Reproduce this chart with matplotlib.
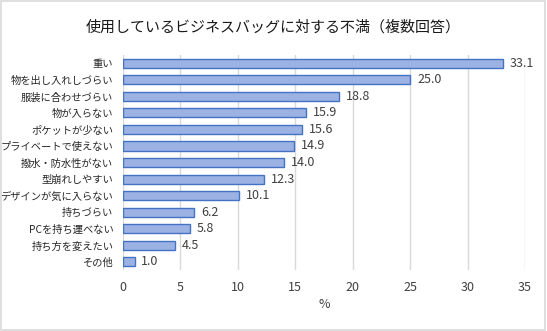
import matplotlib
matplotlib.use("Agg")
import matplotlib.pyplot as plt
from matplotlib.patches import Rectangle

plt.rcParams['font.family'] = ['Noto Sans CJK JP', 'DejaVu Sans']

# data
labels = ["重い", "物を出し入れしづらい", "服装に合わせづらい", "物が入らない",
          "ポケットが少ない", "プライベートで使えない", "撥水・防水性がない",
          "型崩れしやすい", "デザインが気に入らない", "持ちづらい",
          "PCを持ち運べない", "持ち方を変えたい", "その他"]
values = [33.1, 25.0, 18.8, 15.9, 15.6, 14.9, 14.0, 12.3, 10.1, 6.2, 5.8, 4.5, 1.0]
xticks = [0, 5, 10, 15, 20, 25, 30, 35]

fig = plt.figure(figsize=(5.47, 3.31), dpi=100)
fig.patches.append(Rectangle((0.002, 0.003), 0.995, 0.994, transform=fig.transFigure,
                             fill=False, edgecolor='#D9D9D9', linewidth=1.2))
ax = fig.add_axes([0.2249, 0.184, 0.735, 0.65])

y = range(len(labels))
ax.barh(y, values, height=0.55, color='#9CB2E2', edgecolor='#4472C4', linewidth=1.0, zorder=3)
for i, v in enumerate(values):
    ax.text(v + 0.6, i, "%.1f" % v, va='center', ha='left', fontsize=9, color='#404040')

ax.set_xlim(0, 35)
ax.set_ylim(len(labels) - 0.5, -0.5)
ax.set_xticks(xticks)
ax.set_yticks(list(y))
ax.set_yticklabels(labels, fontsize=7.4, color='#262626')
ax.tick_params(axis='x', labelsize=9, colors='#404040', length=0, pad=8)
ax.tick_params(axis='y', length=0, pad=7)
ax.grid(axis='x', color='#D9D9D9', linewidth=1.0, zorder=0)
for s in ax.spines.values():
    s.set_visible(False)
ax.set_xlabel("%", fontsize=9, color='#404040', labelpad=3)

fig.text(0.5, 0.918, "使用しているビジネスバッグに対する不満（複数回答）", ha='center', va='center',
         fontsize=10.8, color='#1a1a1a')

fig.savefig("out.png", dpi=100)
